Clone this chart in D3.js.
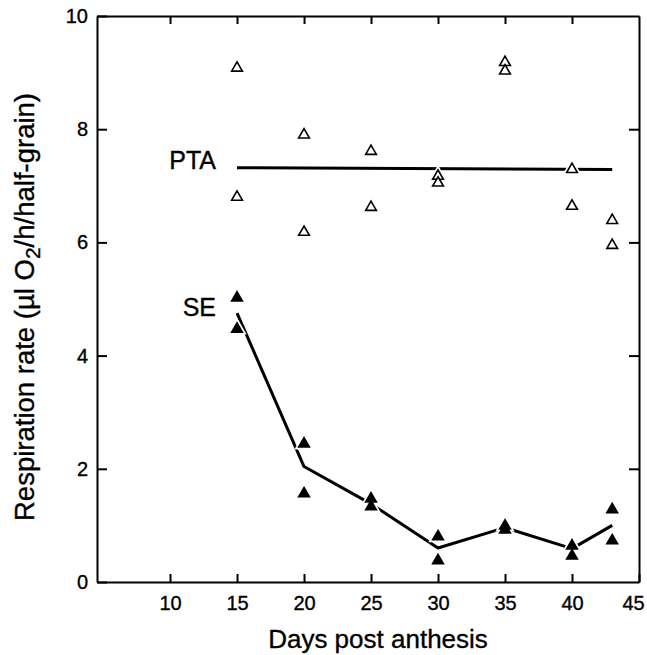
<!DOCTYPE html>
<html>
<head>
<meta charset="utf-8">
<script src="https://cdn.jsdelivr.net/npm/d3@7"></script>
<style>
  body { margin: 0; background: #fff; }
  text { font-family: "Liberation Sans", Arial, sans-serif; fill: #000; stroke: #000; stroke-width: 0.35px; }
</style>
</head>
<body>
<svg class="chart" width="647" height="655"></svg>
<script>
// replicate readings, two grains per sampling day
const ptaDays = [15, 15, 20, 20, 25, 25, 30, 30, 35, 35, 40, 40, 43, 43],
      ptaRates = [9.08, 6.80, 7.90, 6.18, 7.61, 6.62, 7.17, 7.05, 9.18, 9.03, 7.29, 6.64, 6.39, 5.95],
      seDays = [15, 15, 20, 20, 25, 25, 30, 30, 35, 35, 40, 40, 43, 43],
      seRates = [5.02, 4.47, 2.44, 1.56, 1.47, 1.33, 0.80, 0.38, 0.99, 0.92, 0.64, 0.46, 1.28, 0.73]

// fitted lines
const ptaFitDays = [15, 43],
      ptaFitRates = [7.32, 7.29],
      seFitDays = [15, 20, 25, 30, 35, 40, 43],
      seFitRates = [4.75, 2.04, 1.38, 0.60, 0.96, 0.59, 1.00]

const xTicks = [10, 15, 20, 25, 30, 35, 40, 45],
      yTicks = [0, 2, 4, 6, 8, 10]

const margin = { top: 16, right: 8, bottom: 73, left: 97 },
      width = 647 - margin.left - margin.right,
      height = 655 - margin.top - margin.bottom

const svg = d3.select(".chart")
const g = svg.append("g")
  .attr("transform", "translate(" + margin.left + "," + margin.top + ")")

const x = d3.scaleLinear().domain([4.55, 45]).range([0, width])
const y = d3.scaleLinear().domain([0, 10]).range([height, 0])

// axes, ticks pointing inwards
g.append("g")
  .attr("transform", "translate(0," + height + ")")
  .call(d3.axisBottom(x).tickValues(xTicks).tickSizeInner(-8).tickSizeOuter(0).tickPadding(14))
  .selectAll(".tick text").filter(d => d == 45).attr("dx", -6)
g.append("g")
  .call(d3.axisTop(x).tickValues(xTicks.slice(0, -1)).tickSizeInner(-8).tickSizeOuter(0).tickFormat(""))
g.append("g")
  .call(d3.axisLeft(y).tickValues(yTicks).tickSizeInner(-10).tickSizeOuter(0).tickPadding(9))
g.append("g")
  .attr("transform", "translate(" + width + ",0)")
  .call(d3.axisRight(y).tickValues(yTicks.slice(1, -1)).tickSizeInner(-10).tickSizeOuter(0).tickFormat(""))

g.selectAll(".domain").attr("stroke", "#000").attr("stroke-width", 2)
g.selectAll(".tick line").attr("stroke", "#000").attr("stroke-width", 2)
g.selectAll(".tick text").style("font-size", "20px").attr("fill", "#000")

// fitted lines
const line = d3.line().x(d => x(d[0])).y(d => y(d[1]))
g.append("path")
  .datum(d3.zip(ptaFitDays, ptaFitRates))
  .attr("d", line)
  .attr("fill", "none").attr("stroke", "#000").attr("stroke-width", 3)
g.append("path")
  .datum(d3.zip(seFitDays, seFitRates))
  .attr("d", line)
  .attr("fill", "none").attr("stroke", "#000").attr("stroke-width", 3)
  .attr("stroke-linejoin", "round")

// markers with a white halo like the printed figure
const tri = d3.symbol().type(d3.symbolTriangle).size(50)

function markers(days, rates, filled) {
  const pts = d3.zip(days, rates)
  const m = g.append("g")
  m.selectAll(".halo").data(pts).join("path")
    .attr("class", "halo")
    .attr("d", tri)
    .attr("transform", d => "translate(" + x(d[0]) + "," + y(d[1]) + ")")
    .attr("fill", "#fff").attr("stroke", "#fff").attr("stroke-width", 5)
  m.selectAll(".mark").data(pts).join("path")
    .attr("class", "mark")
    .attr("d", tri)
    .attr("transform", d => "translate(" + x(d[0]) + "," + y(d[1]) + ")")
    .attr("fill", filled ? "#000" : "#fff")
    .attr("stroke", "#000").attr("stroke-width", 1.6)
}
markers(ptaDays, ptaRates, false)
markers(seDays, seRates, true)

// series labels
g.append("text")
  .attr("x", x(15) - 21).attr("y", y(7.32) + 1)
  .attr("text-anchor", "end")
  .style("font-size", "25px")
  .text("PTA")
g.append("text")
  .attr("x", x(15) - 21).attr("y", y(4.75) + 3)
  .attr("text-anchor", "end")
  .style("font-size", "25px")
  .text("SE")

// axis titles
svg.append("text")
  .attr("x", 378).attr("y", 648)
  .attr("text-anchor", "middle")
  .style("font-size", "26px")
  .text("Days post anthesis")

const yt = svg.append("text")
  .attr("transform", "translate(34,307) rotate(-90)")
  .attr("text-anchor", "middle")
  .style("font-size", "27.5px")
yt.append("tspan").text("Respiration rate (\u00b5l O")
yt.append("tspan").attr("dy", 6).style("font-size", "21px").text("2")
yt.append("tspan").attr("dy", -6).text("/h/half-grain)")
</script>
</body>
</html>
